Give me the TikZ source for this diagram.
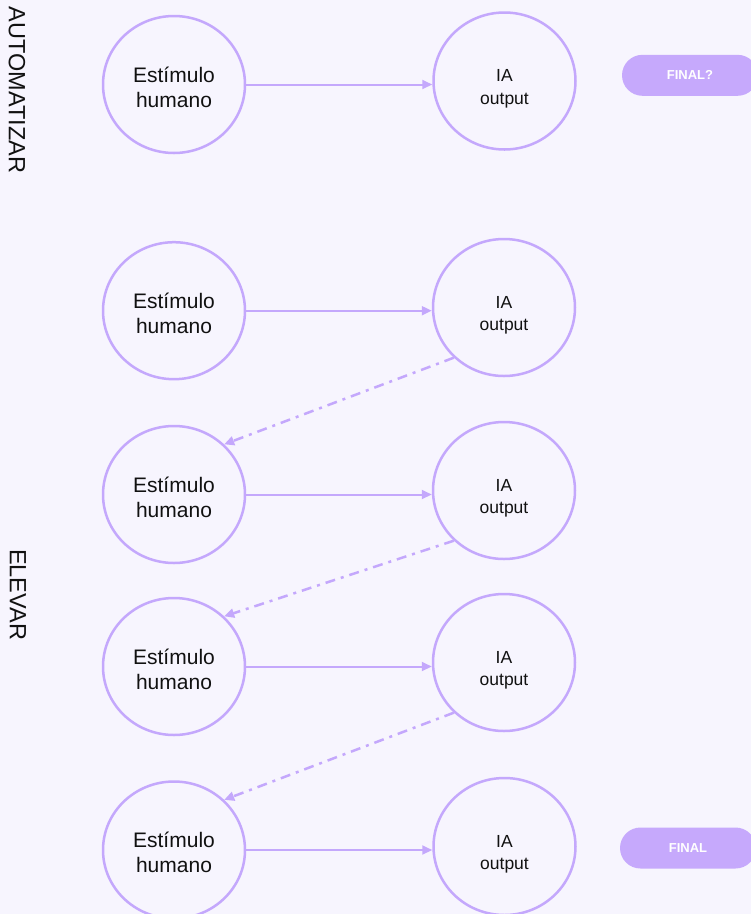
\documentclass[tikz,border=0pt]{standalone}
\usepackage{fontspec}
\setmainfont{Liberation Sans}
\usetikzlibrary{arrows.meta,shapes.geometric}
\definecolor{bgc}{HTML}{F7F5FE}
\definecolor{strk}{HTML}{C4A8FC}
\definecolor{pillc}{HTML}{C6A9FC}
\definecolor{txt}{HTML}{111111}
\newcommand{\lowtext}[2]{\raisebox{-#1}[\height][\depth]{\begin{tabular}{@{}c@{}}#2\end{tabular}}}
\tikzset{
  stim/.style={ellipse,draw=strk,line width=2.5pt,minimum width=142pt,minimum height=137pt,inner sep=0pt,text=txt,font=\fontsize{21}{25}\selectfont},
  aiout/.style={stim,font=\fontsize{17.5}{22.5}\selectfont},
  flow/.style={draw=strk,line width=2pt,-{Triangle[length=10pt,width=9pt]}},
  back/.style={draw=strk,line width=2.5pt,dash pattern=on 10pt off 6pt on 3pt off 6pt,-{Triangle[length=10pt,width=9pt]}},
  pill/.style={fill=pillc,rounded corners=20.5pt,minimum width=136pt,minimum height=41pt,inner sep=0pt,text=white,font=\fontsize{13}{15}\selectfont\bfseries},
  side/.style={text=txt,font=\fontsize{23.5}{27}\selectfont,rotate=-90,inner sep=0pt}
}
\begin{document}
\begin{tikzpicture}[x=1pt,y=-1pt]
\fill[bgc] (0,0) rectangle (751,914);
\useasboundingbox (0,0) rectangle (751,914);
% side labels
\node[side] (auto) at (17,90) {AUTOMATIZAR};
\node[side] (elev) at (18,594.5) {ELEVAR};
% row 1
\node[stim] (l1) at (174,84.5) {\lowtext{5pt}{Estímulo\\humano}};
\node[aiout] (r1) at (504.5,81) {\lowtext{7.5pt}{IA\\output}};
% row 2
\node[stim] (l2) at (174,310.7) {\lowtext{5pt}{Estímulo\\humano}};
\node[aiout] (r2) at (504,307.5) {\lowtext{7.5pt}{IA\\output}};
% row 3
\node[stim] (l3) at (174,494.5) {\lowtext{5pt}{Estímulo\\humano}};
\node[aiout] (r3) at (504,490.5) {\lowtext{7.5pt}{IA\\output}};
% row 4
\node[stim] (l4) at (174,666.5) {\lowtext{5pt}{Estímulo\\humano}};
\node[aiout] (r4) at (504,662.5) {\lowtext{7.5pt}{IA\\output}};
% row 5
\node[stim] (l5) at (174,850) {\lowtext{5pt}{Estímulo\\humano}};
\node[aiout] (r5) at (504.5,846.5) {\lowtext{7.5pt}{IA\\output}};
% pills
\node[pill] (f1) at (690,75.3) {FINAL?};
\node[pill] (f2) at (688,848) {FINAL};
% forward arrows
\foreach \i in {1,...,5}{
  \draw[flow] (l\i.east) -- (l\i.east -| r\i.west);
}
% back arrows
\draw[back] (r2.225) -- (l3.45);
\draw[back] (r3.225) -- (l4.45);
\draw[back] (r4.225) -- (l5.45);
\end{tikzpicture}
\end{document}
